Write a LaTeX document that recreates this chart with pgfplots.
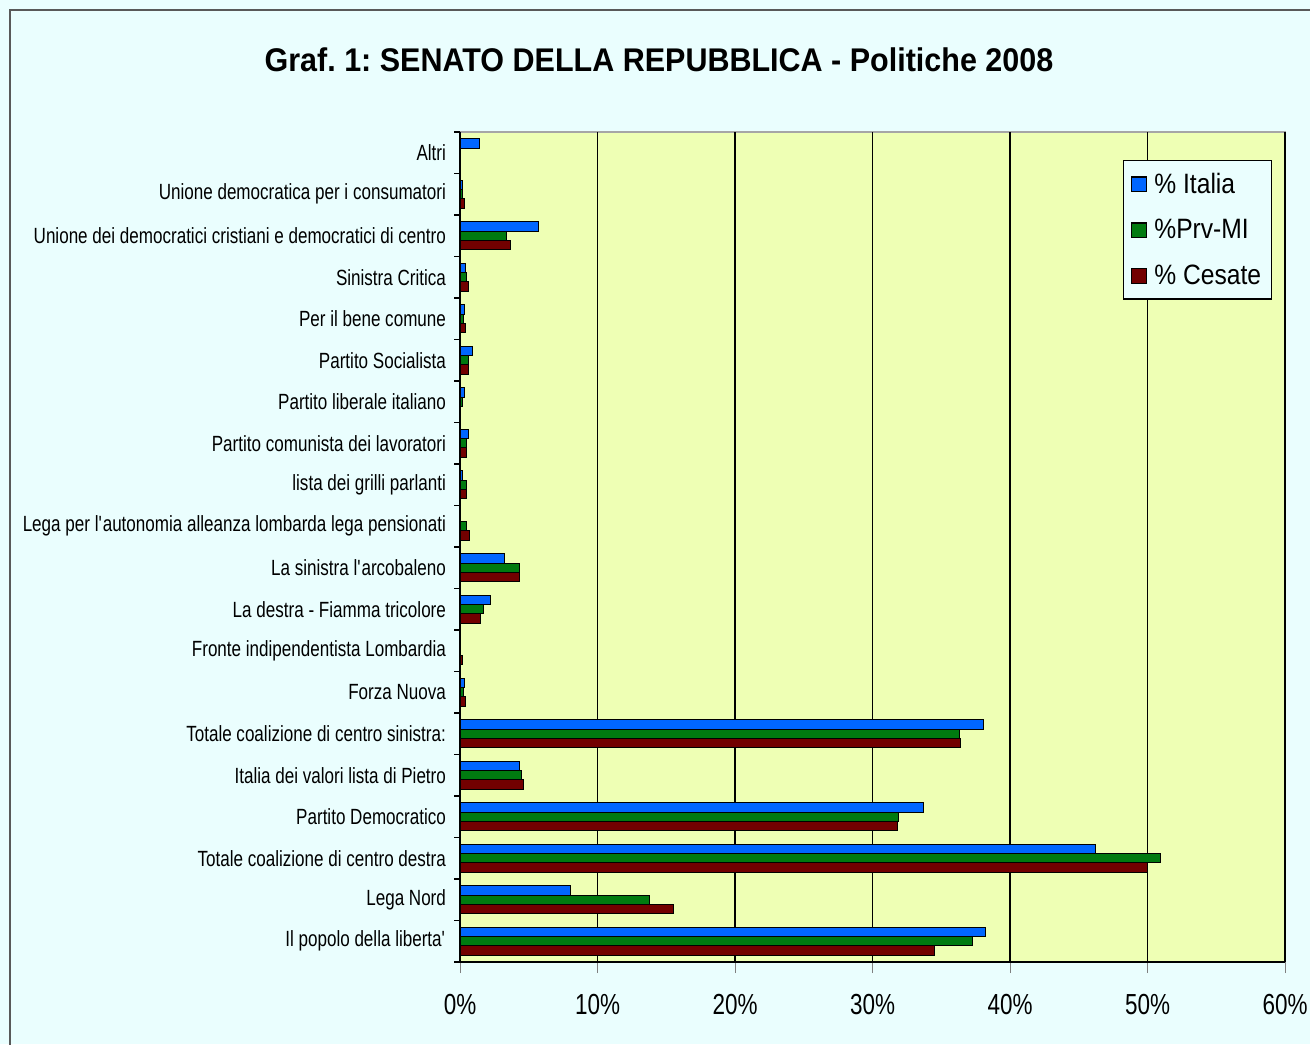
\documentclass[border=0pt]{standalone}
\usepackage{pgfplots}
\pgfplotsset{compat=1.18}
\usepackage{fontspec}
\setmainfont{Liberation Sans}[FakeStretch=0.775]
\newfontfamily\titlefont{Liberation Sans}[FakeStretch=0.93]
\newfontfamily\legfont{Liberation Sans}[FakeStretch=0.88]
\definecolor{bgcyan}{HTML}{EAFEFE}
\definecolor{plotbg}{HTML}{EEFFB4}
\definecolor{cblue}{HTML}{0066FF}
\definecolor{cgreen}{HTML}{007A10}
\definecolor{cred}{HTML}{720000}
\frenchspacing
\begin{document}
\begin{tikzpicture}
\useasboundingbox (0,0) rectangle (655pt,522pt);
\fill[bgcyan] (0,0) rectangle (655pt,522pt);
\draw[black!65, line width=1.2pt] (5pt,-10pt) -- (5pt,517pt) -- (670pt,517pt);
\node[anchor=base, font=\titlefont\bfseries\fontsize{16.4}{19}\selectfont] at (329.5pt,486pt) {Graf. 1: SENATO DELLA REPUBBLICA - Politiche 2008};
\begin{axis}[
  at={(230pt,41pt)}, anchor=south west,
  scale only axis, width=412.5pt, height=415pt,
  xbar, bar width=4.6pt,
  xmin=0, xmax=60, ymin=-0.5, ymax=19.5,
  axis background/.style={fill=plotbg, draw=black!35, line width=0.6pt},
  axis x line*=bottom, axis y line*=left,
  axis line style={black, line width=0.6pt},
  tick align=outside,
  xtick={0,10,...,60},
  xticklabel={\pgfmathprintnumber{\tick}\%},
  /pgf/number format/assume math mode=true,
  xticklabel style={font=\fontsize{14.5}{17}\selectfont, yshift=-7pt},
  major tick length=5.5pt,
  minor tick length=2.8pt,
  xmajorgrids,
  major x grid style={black, line width=0.55pt},
  ytick={0,...,19},
  minor ytick={-0.5,0.5,...,19.5},
  every major y tick/.style={draw=none},
  every minor y tick/.style={black, line width=0.6pt},
  yticklabel style={font=\fontsize{11}{13}\selectfont, xshift=2pt},
  yticklabels={Il popolo della liberta\textquotesingle,Lega Nord,Totale coalizione di centro destra,Partito Democratico,Italia dei valori lista di Pietro,Totale coalizione di centro sinistra:,Forza Nuova,Fronte indipendentista Lombardia,La destra - Fiamma tricolore,La sinistra l\textquotesingle arcobaleno,Lega per l\textquotesingle autonomia alleanza lombarda lega pensionati,lista dei grilli parlanti,Partito comunista dei lavoratori,Partito liberale italiano,Partito Socialista,Per il bene comune,Sinistra Critica,Unione dei democratici cristiani e democratici di centro,Unione democratica per i consumatori,Altri},
  legend image code/.code={\draw[#1, draw=black, line width=0.6pt] (1pt,-3.7pt) rectangle (8.4pt,3.7pt); \path[draw=none,fill=none] (0pt,0pt) (10.5pt,0pt);},
  legend style={at={(0.984,0.966)}, anchor=north east, fill=bgcyan, draw=black, line width=0.6pt,
    font=\legfont\fontsize{14}{16}\selectfont, row sep=7.5pt, inner xsep=3pt, inner ysep=4pt},
  legend cell align=left,
]
\addplot[fill=cblue, draw=black, line width=0.5pt, bar shift=4.6pt] coordinates {
 (38.2,0) (8.07,1) (46.25,2) (33.7,3) (4.3,4) (38.06,5) (0.3,6) (2.2,8) (3.2,9)
 (0.2,11) (0.6,12) (0.3,13) (0.9,14) (0.3,15) (0.4,16) (5.7,17) (0.17,18) (1.45,19)};
\addplot[fill=cgreen, draw=black, line width=0.5pt, bar shift=0pt] coordinates {
 (37.3,0) (13.77,1) (50.93,2) (31.9,3) (4.45,4) (36.3,5) (0.25,6) (1.7,8) (4.3,9)
 (0.5,10) (0.5,11) (0.45,12) (0.2,13) (0.6,14) (0.27,15) (0.5,16) (3.4,17) (0.17,18)};
\addplot[fill=cred, draw=black, line width=0.5pt, bar shift=-4.6pt] coordinates {
 (34.5,0) (15.56,1) (50.0,2) (31.8,3) (4.65,4) (36.4,5) (0.4,6) (0.2,7) (1.5,8) (4.3,9)
 (0.7,10) (0.5,11) (0.5,12) (0.6,14) (0.4,15) (0.6,16) (3.7,17) (0.3,18)};
\legend{\% Italia,\%Prv-MI,\% Cesate}
\end{axis}
\end{tikzpicture}
\end{document}
